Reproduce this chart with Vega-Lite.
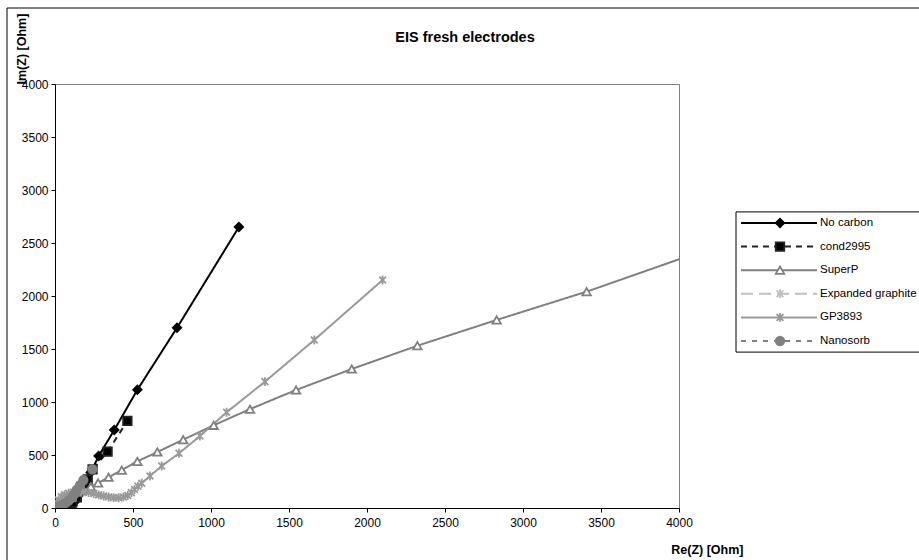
{
  "$schema": "https://vega.github.io/schema/vega-lite/v6.json",
  "autosize": {"type": "none"},
  "width": 624,
  "height": 424,
  "padding": {"left": 55, "top": 84, "right": 240, "bottom": 52},
  "background": "white",
  "config": {
    "font": "Liberation Sans",
    "view": {"stroke": "#808080", "strokeWidth": 1}
  },
  "title": {
    "text": "EIS fresh electrodes",
    "fontSize": 14.5,
    "fontWeight": "bold",
    "color": "#000000",
    "anchor": "middle",
    "frame": "group",
    "baseline": "middle",
    "offset": 0,
    "dx": 98,
    "dy": 45
  },
  "datasets": {
    "eis": [
      {"series": "No carbon", "re": 96, "im": 0},
      {"series": "No carbon", "re": 112, "im": 25},
      {"series": "No carbon", "re": 135, "im": 70},
      {"series": "No carbon", "re": 165, "im": 140},
      {"series": "No carbon", "re": 198, "im": 230},
      {"series": "No carbon", "re": 229, "im": 335},
      {"series": "No carbon", "re": 280, "im": 491},
      {"series": "No carbon", "re": 380, "im": 736},
      {"series": "No carbon", "re": 528, "im": 1115},
      {"series": "No carbon", "re": 782, "im": 1700},
      {"series": "No carbon", "re": 1179, "im": 2651},
      {"series": "cond2995", "re": 25, "im": 0},
      {"series": "cond2995", "re": 50, "im": 5},
      {"series": "cond2995", "re": 80, "im": 20},
      {"series": "cond2995", "re": 110, "im": 50},
      {"series": "cond2995", "re": 140, "im": 100},
      {"series": "cond2995", "re": 175, "im": 180},
      {"series": "cond2995", "re": 210, "im": 270},
      {"series": "cond2995", "re": 241, "im": 365},
      {"series": "cond2995", "re": 337, "im": 531},
      {"series": "cond2995", "re": 464, "im": 821},
      {"series": "SuperP", "re": 5, "im": 2},
      {"series": "SuperP", "re": 15, "im": 15},
      {"series": "SuperP", "re": 30, "im": 35},
      {"series": "SuperP", "re": 50, "im": 60},
      {"series": "SuperP", "re": 75, "im": 90},
      {"series": "SuperP", "re": 105, "im": 120},
      {"series": "SuperP", "re": 140, "im": 150},
      {"series": "SuperP", "re": 180, "im": 175},
      {"series": "SuperP", "re": 230, "im": 201},
      {"series": "SuperP", "re": 276, "im": 236},
      {"series": "SuperP", "re": 343, "im": 290},
      {"series": "SuperP", "re": 428, "im": 357},
      {"series": "SuperP", "re": 528, "im": 440},
      {"series": "SuperP", "re": 656, "im": 528},
      {"series": "SuperP", "re": 822, "im": 645},
      {"series": "SuperP", "re": 1017, "im": 780},
      {"series": "SuperP", "re": 1250, "im": 933},
      {"series": "SuperP", "re": 1545, "im": 1113},
      {"series": "SuperP", "re": 1902, "im": 1311},
      {"series": "SuperP", "re": 2323, "im": 1531},
      {"series": "SuperP", "re": 2831, "im": 1774},
      {"series": "SuperP", "re": 3408, "im": 2041},
      {"series": "SuperP", "re": 4100, "im": 2398},
      {"series": "Expanded graphite", "re": 3, "im": 2},
      {"series": "Expanded graphite", "re": 8, "im": 12},
      {"series": "Expanded graphite", "re": 15, "im": 25},
      {"series": "Expanded graphite", "re": 25, "im": 40},
      {"series": "Expanded graphite", "re": 38, "im": 55},
      {"series": "Expanded graphite", "re": 55, "im": 68},
      {"series": "Expanded graphite", "re": 75, "im": 80},
      {"series": "Expanded graphite", "re": 95, "im": 88},
      {"series": "Expanded graphite", "re": 115, "im": 95},
      {"series": "GP3893", "re": 3, "im": 5},
      {"series": "GP3893", "re": 10, "im": 40},
      {"series": "GP3893", "re": 22, "im": 75},
      {"series": "GP3893", "re": 40, "im": 105},
      {"series": "GP3893", "re": 62, "im": 125},
      {"series": "GP3893", "re": 88, "im": 140},
      {"series": "GP3893", "re": 118, "im": 148},
      {"series": "GP3893", "re": 150, "im": 152},
      {"series": "GP3893", "re": 182, "im": 152},
      {"series": "GP3893", "re": 215, "im": 146},
      {"series": "GP3893", "re": 248, "im": 136},
      {"series": "GP3893", "re": 280, "im": 124},
      {"series": "GP3893", "re": 312, "im": 113},
      {"series": "GP3893", "re": 344, "im": 104},
      {"series": "GP3893", "re": 376, "im": 98},
      {"series": "GP3893", "re": 408, "im": 96},
      {"series": "GP3893", "re": 438, "im": 103},
      {"series": "GP3893", "re": 466, "im": 118},
      {"series": "GP3893", "re": 490, "im": 145},
      {"series": "GP3893", "re": 510, "im": 175},
      {"series": "GP3893", "re": 532, "im": 205},
      {"series": "GP3893", "re": 556, "im": 233},
      {"series": "GP3893", "re": 609, "im": 302},
      {"series": "GP3893", "re": 684, "im": 396},
      {"series": "GP3893", "re": 795, "im": 516},
      {"series": "GP3893", "re": 929, "im": 679},
      {"series": "GP3893", "re": 1100, "im": 903},
      {"series": "GP3893", "re": 1346, "im": 1192},
      {"series": "GP3893", "re": 1662, "im": 1585},
      {"series": "GP3893", "re": 2100, "im": 2151},
      {"series": "Nanosorb", "re": 5, "im": 2},
      {"series": "Nanosorb", "re": 12, "im": 6},
      {"series": "Nanosorb", "re": 22, "im": 12},
      {"series": "Nanosorb", "re": 35, "im": 20},
      {"series": "Nanosorb", "re": 50, "im": 32},
      {"series": "Nanosorb", "re": 68, "im": 48},
      {"series": "Nanosorb", "re": 88, "im": 70},
      {"series": "Nanosorb", "re": 110, "im": 100},
      {"series": "Nanosorb", "re": 125, "im": 130},
      {"series": "Nanosorb", "re": 139, "im": 170},
      {"series": "Nanosorb", "re": 160, "im": 215},
      {"series": "Nanosorb", "re": 182, "im": 264},
      {"series": "Nanosorb", "re": 240, "im": 365}
    ],
    "legend": [
      {"series": "No carbon", "row": 0},
      {"series": "cond2995", "row": 1},
      {"series": "SuperP", "row": 2},
      {"series": "Expanded graphite", "row": 3},
      {"series": "GP3893", "row": 4},
      {"series": "Nanosorb", "row": 5}
    ]
  },
  "resolve": {"scale": {"x": "independent", "y": "independent"}},
  "layer": [
    {
      "data": {"name": "eis"},
      "encoding": {
        "x": {
          "field": "re", "type": "quantitative",
          "scale": {"domain": [0, 4000], "nice": false, "zero": false},
          "axis": {
            "values": [0, 500, 1000, 1500, 2000, 2500, 3000, 3500, 4000],
            "format": "d",
            "grid": false, "title": "Re(Z) [Ohm]",
            "labelFontSize": 12, "labelColor": "#000000", "labelFlush": false, "labelOverlap": false,
            "tickColor": "#000000", "tickSize": 4, "domainColor": "#000000", "labelPadding": 5,
            "titleFontSize": 12.5, "titleFontWeight": "bold", "titleColor": "#000000",
            "titleX": 688, "titleY": 41, "titleAlign": "right", "titleBaseline": "middle"
          }
        },
        "y": {
          "field": "im", "type": "quantitative",
          "scale": {"domain": [0, 4000], "nice": false, "zero": false},
          "axis": {
            "values": [0, 500, 1000, 1500, 2000, 2500, 3000, 3500, 4000],
            "format": "d",
            "grid": false, "title": "Im(Z) [Ohm]",
            "labelFontSize": 12, "labelColor": "#000000", "labelFlush": false, "labelOverlap": false,
            "tickColor": "#000000", "tickSize": 4, "domainColor": "#000000", "labelPadding": 3,
            "titleFontSize": 12.5, "titleFontWeight": "bold", "titleColor": "#000000",
            "titleX": -34, "titleY": 0, "titleAngle": -90, "titleAlign": "left", "titleBaseline": "middle"
          }
        }
      },
      "layer": [
        {
          "mark": {"type": "line", "strokeWidth": 2, "clip": true},
          "encoding": {
            "detail": {"field": "series"},
            "stroke": {
              "field": "series", "type": "nominal",
              "scale": {"domain": ["No carbon", "cond2995", "SuperP", "Expanded graphite", "GP3893", "Nanosorb"],
                        "range": ["#000000", "#222222", "#808080", "#c0c0c0", "#999999", "#808080"]},
              "legend": null
            },
            "strokeDash": {
              "field": "series", "type": "nominal",
              "scale": {"domain": ["No carbon", "cond2995", "SuperP", "Expanded graphite", "GP3893", "Nanosorb"],
                        "range": [[1, 0], [6, 5], [1, 0], [12, 6], [1, 0], [5, 6]]},
              "legend": null
            }
          }
        },
        {
          "mark": {"type": "point", "filled": true, "size": 72, "strokeWidth": 1.8, "opacity": 1, "clip": true},
          "encoding": {
            "shape": {
              "field": "series", "type": "nominal",
              "scale": {"domain": ["No carbon", "cond2995", "SuperP", "Expanded graphite", "GP3893", "Nanosorb"],
                        "range": ["diamond", "square", "triangle-up", "M-0.8,-0.8L0.8,0.8M-0.8,0.8L0.8,-0.8M0,-1.05L0,1.05", "M-0.8,-0.8L0.8,0.8M-0.8,0.8L0.8,-0.8M0,-1.05L0,1.05", "circle"]},
              "legend": null
            },
            "stroke": {
              "field": "series", "type": "nominal",
              "scale": {"domain": ["No carbon", "cond2995", "SuperP", "Expanded graphite", "GP3893", "Nanosorb"],
                        "range": ["#000000", "#222222", "#808080", "#c0c0c0", "#999999", "#808080"]},
              "legend": null
            },
            "fill": {
              "field": "series", "type": "nominal",
              "scale": {"domain": ["No carbon", "cond2995", "SuperP", "Expanded graphite", "GP3893", "Nanosorb"],
                        "range": ["#000000", "#000000", "#ffffff", "#c0c0c0", "#999999", "#808080"]},
              "legend": null
            }
          }
        }
      ]
    },
    {
      "data": {"name": "legend"},
      "layer": [
        {
          "data": {"values": [{"frame": "chart"}]},
          "mark": {"type": "rect", "fillOpacity": 0, "stroke": "#000000", "strokeWidth": 1},
          "encoding": {
            "x": {"datum": -729, "type": "quantitative", "scale": {"domain": [-681, -57], "nice": false, "zero": false}, "axis": null},
            "x2": {"datum": 300},
            "y": {"datum": -9.11, "type": "quantitative", "scale": {"domain": [-5.89, 12.076], "reverse": true, "nice": false, "zero": false}, "axis": null},
            "y2": {"datum": 16}
          }
        },
        {
          "data": {"values": [{"frame": "legend"}]},
          "mark": {"type": "rect", "fill": "#ffffff", "stroke": "#000000", "strokeWidth": 1},
          "encoding": {
            "x": {"datum": 0, "type": "quantitative"},
            "x2": {"datum": 250},
            "y": {"datum": -0.47, "type": "quantitative"},
            "y2": {"datum": 5.47}
          }
        },
        {
          "mark": {"type": "rule", "strokeWidth": 2},
          "encoding": {
            "x": {"datum": 5, "type": "quantitative"},
            "x2": {"datum": 81},
            "y": {"field": "row", "type": "quantitative"},
            "stroke": {"field": "series", "type": "nominal", "legend": null},
            "strokeDash": {"field": "series", "type": "nominal", "legend": null}
          }
        },
        {
          "mark": {"type": "point", "filled": true, "size": 72, "strokeWidth": 1.8, "opacity": 1},
          "encoding": {
            "x": {"datum": 44, "type": "quantitative"},
            "y": {"field": "row", "type": "quantitative"},
            "shape": {"field": "series", "type": "nominal", "legend": null},
            "stroke": {"field": "series", "type": "nominal", "legend": null},
            "fill": {"field": "series", "type": "nominal", "legend": null}
          }
        },
        {
          "mark": {"type": "text", "align": "left", "baseline": "middle", "fontSize": 11.5, "color": "#000000"},
          "encoding": {
            "x": {"datum": 84, "type": "quantitative"},
            "y": {"field": "row", "type": "quantitative"},
            "text": {"field": "series"}
          }
        }
      ]
    }
  ]
}
